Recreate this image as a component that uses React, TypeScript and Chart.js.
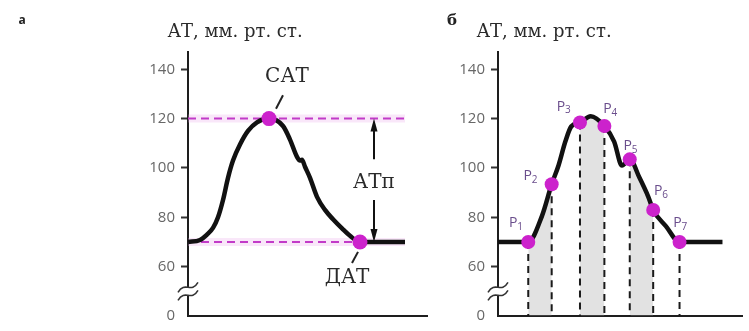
import React, { useEffect, useRef } from "react";
import { Chart, registerables } from "chart.js";

Chart.register(...registerables);

// ---------- shared pressure axis (broken below 60 mm Hg; 40 is shown as "0") ----------
const Y_MIN = 40;
const Y_MAX = 147;
const yTickValues = [40, 60, 80, 100, 120, 140];
const yTickLabels = ["0", "60", "80", "100", "120", "140"];
const axisBreakAt = 50;

const titleText = "АТ, мм. рт. ст.";

// ---------- panel а: one pressure pulse ----------
const timeA = [0, 12, 19, 25, 30, 35, 40, 45, 52, 60, 69, 81, 95, 102, 109, 112, 114, 117, 122, 129, 137, 145, 154, 162, 172, 217];
const pressureA = [70, 70.8, 73, 75.7, 80, 87, 96, 103, 109.5, 115, 118.5, 120, 117, 111.5, 104.5, 103, 103.3, 100.5, 96, 88.3, 83, 79.2, 75.5, 72.5, 70, 70];
const X_MAX_A = 239;
const systolic = { t: 81, p: 120, name: "САТ" };
const diastolic = { t: 172, p: 70, name: "ДАТ" };
const refLineEnd = 217;
const pulsePressureName = "АТп";
const pulsePressureAt = { t: 186, label: 94, upperFrom: 103.5, lowerFrom: 87 };
const systolicLabel = { t: 99, p: 137, leader: [95, 129.5, 88, 124] };
const diastolicLabel = { t: 159, p: 55.5, leader: [170, 66, 164, 61.5] };

// ---------- panel б: sampled pulse ----------
const timeB = [0, 31, 45, 55, 62, 69, 75, 84, 95, 109, 119, 127, 135, 145, 154, 159, 172, 186, 230];
const pressureB = [70, 70, 80.5, 93.4, 101, 110.7, 116.8, 118.4, 121, 117, 110.7, 101, 103.5, 96, 88.3, 83, 76.4, 70, 70];
const X_MAX_B = 250;
const sampleTimes = [31, 55, 84, 109, 135, 159, 186];
const samplePressures = [70, 93.4, 118.4, 117, 103.5, 83, 70];
const sampleIndexes = ["1", "2", "3", "4", "5", "6", "7"];
const shadedSpans = [
  [0, 1],
  [2, 3],
  [4, 5],
];

const MAGENTA = "#cc22cc";
const LINE_DARK = "#111111";
const AXIS_DARK = "#1e1e1e";
const TEXT_DARK = "#2a2a2a";
const SERIF = '"DejaVu Serif", "Liberation Serif", serif';
const SANS = '"Open Sans", "DejaVu Sans", sans-serif';

function makeYScale(axisWidth: number) {
  return {
    type: "linear",
    min: Y_MIN,
    max: Y_MAX,
    afterBuildTicks: (scale: any) => {
      scale.ticks = yTickValues.map((v) => ({ value: v }));
    },
    afterFit: (scale: any) => {
      scale.width = axisWidth;
    },
    ticks: {
      color: "#676767",
      font: { family: SANS, size: 15 },
      padding: 6,
      callback: (_v: any, i: number) => yTickLabels[i],
    },
    grid: {
      display: true,
      drawOnChartArea: false,
      drawTicks: true,
      tickLength: 7,
      tickWidth: 2,
      color: (c: any) => (c.tick && c.tick.value === Y_MIN ? "rgba(0,0,0,0)" : "#333"),
    },
    border: { display: true, color: AXIS_DARK, width: 2 },
  };
}

function makeXScale(max: number) {
  return {
    type: "linear",
    min: 0,
    max,
    ticks: { display: false },
    grid: { display: false },
    border: { display: true, color: AXIS_DARK, width: 2 },
    afterFit: (scale: any) => {
      scale.height = 9;
    },
  };
}

function points(xs: number[], ys: number[]) {
  return xs.map((x, i) => ({ x, y: ys[i] }));
}

function drawAxisBreak(chart: any) {
  const { ctx, chartArea, scales } = chart;
  const x = chartArea.left;
  const y = scales.y.getPixelForValue(axisBreakAt);
  ctx.save();
  ctx.fillStyle = "#fff";
  ctx.fillRect(x - 3, y - 4, 6, 8);
  ctx.strokeStyle = "#333";
  ctx.lineWidth = 1.6;
  for (const dy of [-4, 4]) {
    ctx.beginPath();
    ctx.moveTo(x - 10, y + dy + 5);
    ctx.bezierCurveTo(x - 3, y + dy - 7, x + 3, y + dy + 7, x + 10, y + dy - 5);
    ctx.stroke();
  }
  ctx.restore();
}

function drawTitle(chart: any, centerX: number, panel: string, panelX: number, panelFont: string) {
  const { ctx } = chart;
  ctx.save();
  ctx.fillStyle = TEXT_DARK;
  ctx.font = `18px ${SERIF}`;
  ctx.textAlign = "center";
  ctx.textBaseline = "middle";
  ctx.fillText(titleText, centerX, 32);
  ctx.fillStyle = "#222";
  ctx.font = panelFont;
  ctx.fillText(panel, panelX, 21);
  ctx.restore();
}

function drawArrow(ctx: any, x: number, yFrom: number, yTo: number) {
  const dir = yTo < yFrom ? -1 : 1;
  ctx.beginPath();
  ctx.moveTo(x, yFrom);
  ctx.lineTo(x, yTo - dir * 10);
  ctx.stroke();
  ctx.beginPath();
  ctx.moveTo(x, yTo);
  ctx.lineTo(x - 3.5, yTo - dir * 13);
  ctx.lineTo(x + 3.5, yTo - dir * 13);
  ctx.closePath();
  ctx.fill();
}

const panelAPlugin = {
  id: "panelADecor",
  afterDraw(chart: any) {
    const { ctx, scales } = chart;
    const { x, y } = scales;
    drawAxisBreak(chart);
    drawTitle(chart, 235, "а", 22, `bold 12px ${SANS}`);

    ctx.save();
    ctx.fillStyle = TEXT_DARK;
    ctx.strokeStyle = "#222";
    ctx.font = `20px ${SERIF}`;
    ctx.textAlign = "center";
    ctx.textBaseline = "middle";
    ctx.fillText(systolic.name, x.getPixelForValue(systolicLabel.t), y.getPixelForValue(systolicLabel.p));
    ctx.fillText(diastolic.name, x.getPixelForValue(diastolicLabel.t), y.getPixelForValue(diastolicLabel.p));
    ctx.fillText(pulsePressureName, x.getPixelForValue(pulsePressureAt.t), y.getPixelForValue(pulsePressureAt.label));

    ctx.lineWidth = 2;
    for (const l of [systolicLabel.leader, diastolicLabel.leader]) {
      ctx.beginPath();
      ctx.moveTo(x.getPixelForValue(l[0]), y.getPixelForValue(l[1]));
      ctx.lineTo(x.getPixelForValue(l[2]), y.getPixelForValue(l[3]));
      ctx.stroke();
    }

    const ax = x.getPixelForValue(pulsePressureAt.t);
    ctx.fillStyle = "#111";
    ctx.strokeStyle = "#111";
    drawArrow(ctx, ax, y.getPixelForValue(pulsePressureAt.upperFrom), y.getPixelForValue(systolic.p));
    drawArrow(ctx, ax, y.getPixelForValue(pulsePressureAt.lowerFrom), y.getPixelForValue(diastolic.p));
    ctx.restore();
  },
};

// label placement around each sample dot (px)
const sampleLabelOffsets = [
  [-15, -19],
  [-24, -8],
  [-19, -16],
  [3, -17],
  [-2, -13],
  [5, -19],
  [-2, -19],
];

const panelBPlugin = {
  id: "panelBDecor",
  afterDatasetDraw(chart: any, args: any) {
    if (args.index !== 0) return;
    const { ctx, scales } = chart;
    const { x, y } = scales;
    ctx.save();
    ctx.strokeStyle = "#1a1a1a";
    ctx.lineWidth = 2;
    ctx.setLineDash([7, 5]);
    sampleTimes.forEach((t, i) => {
      const px = x.getPixelForValue(t);
      ctx.beginPath();
      ctx.moveTo(px, y.getPixelForValue(samplePressures[i]));
      ctx.lineTo(px, y.getPixelForValue(Y_MIN));
      ctx.stroke();
    });
    ctx.restore();
  },
  afterDraw(chart: any) {
    const { ctx, scales } = chart;
    const { x, y } = scales;
    drawAxisBreak(chart);
    drawTitle(chart, 109, "б", 17, `bold 15px ${SERIF}`);
    ctx.save();
    ctx.fillStyle = "#6a4d8c";
    ctx.textBaseline = "middle";
    sampleTimes.forEach((t, i) => {
      const px = x.getPixelForValue(t) + sampleLabelOffsets[i][0];
      const py = y.getPixelForValue(samplePressures[i]) + sampleLabelOffsets[i][1];
      ctx.font = `14px ${SANS}`;
      ctx.textAlign = "center";
      ctx.fillText("P", px, py);
      ctx.font = `10px ${SANS}`;
      ctx.textAlign = "left";
      ctx.fillText(sampleIndexes[i], px + 4, py + 4);
    });
    ctx.restore();
  },
};

function inShadedSpan(t0: number, t1: number) {
  return shadedSpans.some(([a, b]) => t0 >= sampleTimes[a] && t1 <= sampleTimes[b]);
}

function PanelA() {
  const ref = useRef<HTMLCanvasElement | null>(null);
  useEffect(() => {
    if (!ref.current) return;
    const chart = new Chart(ref.current, {
      type: "line",
      data: {
        datasets: [
          {
            data: [systolic, diastolic].map((d) => ({ x: d.t, y: d.p })),
            showLine: false,
            pointRadius: 7.5,
            pointBackgroundColor: MAGENTA,
            pointBorderWidth: 0,
            order: 1,
          },
          {
            data: points(timeA, pressureA),
            borderColor: LINE_DARK,
            borderWidth: 4.5,
            pointRadius: 0,
            cubicInterpolationMode: "monotone",
            fill: false,
            order: 2,
          },
          ...[systolic.p, diastolic.p].map((p) => ({
            data: [
              { x: 0, y: p },
              { x: refLineEnd, y: p },
            ],
            borderColor: "#c23bc8",
            borderWidth: 2,
            borderDash: [8, 5],
            pointRadius: 0,
            order: 3,
          })),
          ...[systolic.p, diastolic.p].map((p) => ({
            data: [
              { x: 0, y: p },
              { x: refLineEnd, y: p },
            ],
            borderColor: "rgba(232,170,232,0.28)",
            borderWidth: 8,
            pointRadius: 0,
            order: 4,
          })),
        ],
      },
      options: {
        responsive: false,
        animation: false,
        devicePixelRatio: 1,
        layout: { padding: { top: 52, right: 8, left: 0, bottom: 0 } },
        plugins: { legend: { display: false }, tooltip: { enabled: false } },
        scales: { x: makeXScale(X_MAX_A), y: makeYScale(188) },
      } as any,
      plugins: [panelAPlugin],
    });
    return () => chart.destroy();
  }, []);
  return (
    <canvas
      ref={ref}
      width={435}
      height={331}
      style={{ position: "absolute", left: 0, top: 0, width: 435, height: 331 }}
    />
  );
}

function PanelB() {
  const ref = useRef<HTMLCanvasElement | null>(null);
  useEffect(() => {
    if (!ref.current) return;
    const chart = new Chart(ref.current, {
      type: "line",
      data: {
        datasets: [
          {
            data: points(timeB, pressureB),
            borderColor: LINE_DARK,
            borderWidth: 4.5,
            pointRadius: 0,
            cubicInterpolationMode: "monotone",
            backgroundColor: "rgba(0,0,0,0)",
            fill: "start",
            segment: {
              backgroundColor: (c: any) =>
                inShadedSpan(c.p0.parsed.x, c.p1.parsed.x) ? "rgba(150,150,150,0.28)" : "rgba(0,0,0,0)",
            },
            order: 2,
          },
          {
            data: points(sampleTimes, samplePressures),
            showLine: false,
            pointRadius: 7,
            pointBackgroundColor: MAGENTA,
            pointBorderWidth: 0,
            order: 1,
          },
        ],
      },
      options: {
        responsive: false,
        animation: false,
        devicePixelRatio: 1,
        layout: { padding: { top: 52, right: 1, left: 0, bottom: 0 } },
        plugins: { legend: { display: false }, tooltip: { enabled: false } },
        scales: { x: makeXScale(X_MAX_B), y: makeYScale(63) },
      } as any,
      plugins: [panelBPlugin],
    });
    return () => chart.destroy();
  }, []);
  return (
    <canvas
      ref={ref}
      width={314}
      height={331}
      style={{ position: "absolute", left: 435, top: 0, width: 314, height: 331 }}
    />
  );
}

export default function App() {
  return (
    <div
      style={{
        position: "absolute",
        left: 0,
        top: 0,
        width: 749,
        height: 331,
        background: "#fff",
        overflow: "hidden",
      }}
    >
      <PanelA />
      <PanelB />
    </div>
  );
}
